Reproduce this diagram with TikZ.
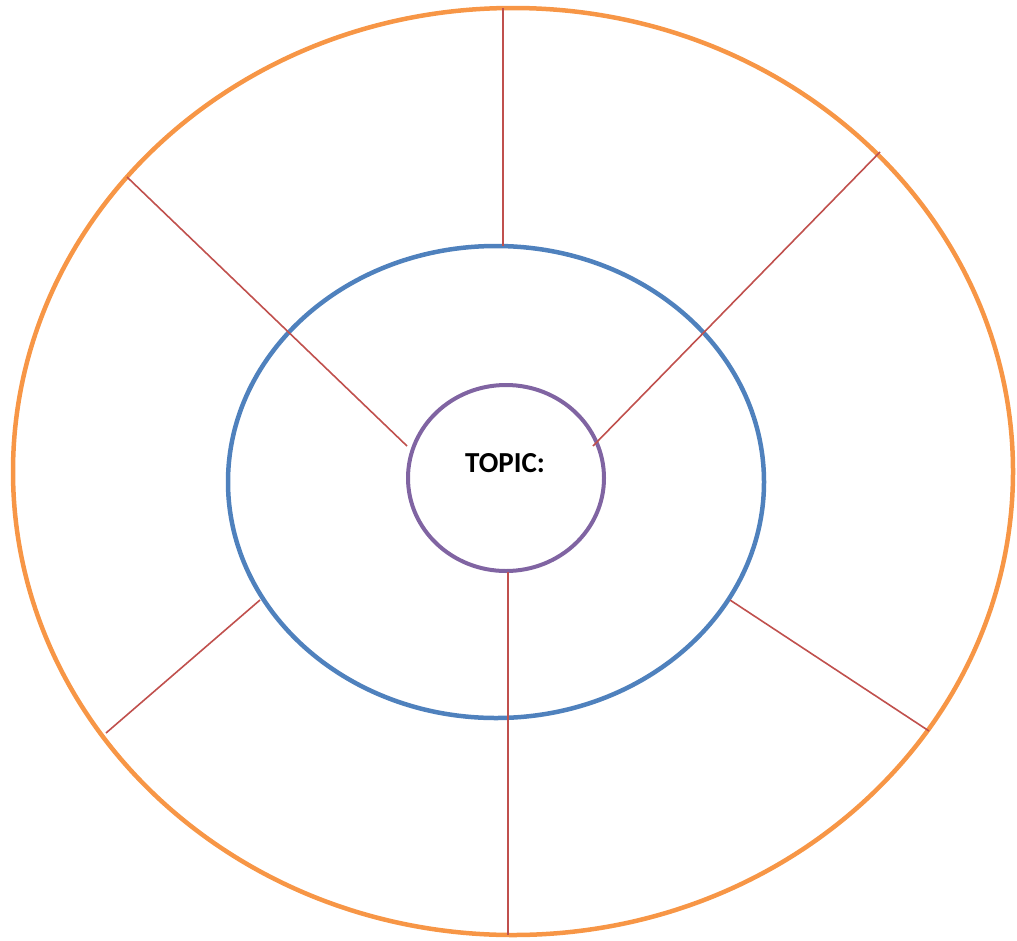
\documentclass[tikz,border=0pt]{standalone}
\usepackage{fontspec}
\setmainfont{Carlito}
\usetikzlibrary{shapes.geometric}
\definecolor{ringorange}{HTML}{F79646}
\definecolor{ringblue}{HTML}{4F81BD}
\definecolor{ringpurple}{HTML}{8064A2}
\definecolor{spokered}{HTML}{C0504D}

\begin{document}
\begin{tikzpicture}[
  x=1pt, y=-1pt,
  ring/.style={draw, ellipse, inner sep=0pt, line width=4.5pt},
  spoke/.style={draw=spokered, line width=1.6pt}
]
\useasboundingbox (0,0) rectangle (1017,940);
\node[ring, draw=ringorange, minimum width=1000pt, minimum height=927pt] (outer) at (513,471.5) {};
\node[ring, draw=ringblue, minimum width=536pt, minimum height=472pt] (middle) at (496,482) {};
\node[ring, draw=ringpurple, line width=4pt, minimum width=196pt, minimum height=186pt] (topic) at (506,478) {};
\node[font=\bfseries\fontsize{29}{32}\selectfont] (label) at (505,463.5) {TOPIC:};

% spoke end points
\coordinate (topA) at (503,8);   \coordinate (topB) at (503,246);
\coordinate (urA) at (880,152);  \coordinate (urB) at (593,446);
\coordinate (ulA) at (127,177);  \coordinate (ulB) at (407,446);
\coordinate (llA) at (106,733);  \coordinate (llB) at (260,600);
\coordinate (lrA) at (929,731);  \coordinate (lrB) at (730,600);
\coordinate (botA) at (508,572); \coordinate (botB) at (508,935);

\draw[spoke] (topA) -- (topB);
\draw[spoke] (urA) -- (urB);
\draw[spoke] (ulA) -- (ulB);
\draw[spoke] (llA) -- (llB);
\draw[spoke] (lrA) -- (lrB);
\draw[spoke] (botA) -- (botB);
\end{tikzpicture}
\end{document}
